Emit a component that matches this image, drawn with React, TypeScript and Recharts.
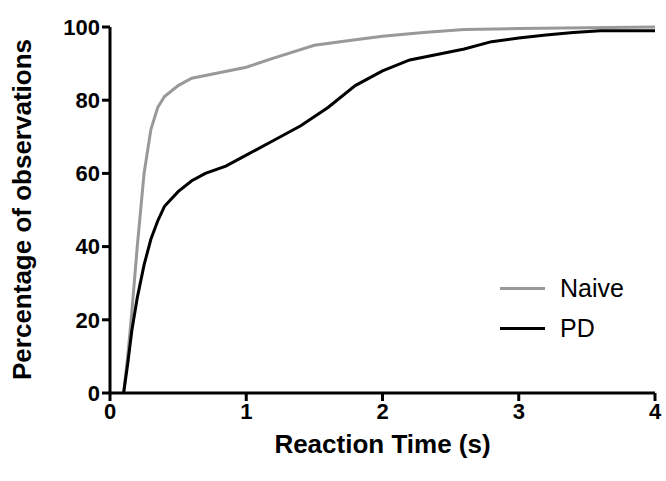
import { LineChart, Line, XAxis, YAxis } from "recharts"

const naiveX = [0.1, 0.13, 0.16, 0.2, 0.25, 0.3, 0.35, 0.4, 0.5, 0.6, 0.8, 1.0, 1.2, 1.5, 1.8, 2.0, 2.3, 2.6, 3.0, 3.5, 4.0]
const naiveY = [0, 10, 22, 40, 60, 72, 78, 81, 84, 86, 87.5, 89, 91.5, 95, 96.5, 97.5, 98.5, 99.3, 99.6, 99.8, 100]
const pdX = [0.1, 0.13, 0.16, 0.2, 0.25, 0.3, 0.35, 0.4, 0.5, 0.6, 0.7, 0.85, 1.0, 1.2, 1.4, 1.6, 1.8, 2.0, 2.2, 2.4, 2.6, 2.8, 3.0, 3.2, 3.4, 3.6, 4.0]
const pdY = [0, 8, 17, 26, 35, 42, 47, 51, 55, 58, 60, 62, 65, 69, 73, 78, 84, 88, 91, 92.5, 94, 96, 97, 97.8, 98.5, 99, 99]
const xTicks = [0, 1, 2, 3, 4]
const yTicks = [0, 20, 40, 60, 80, 100]
const series = [
    { name: "Naive", color: "#999" },
    { name: "PD", color: "#000" },
]

const naive = naiveX.map((x, i) => ({ x, y: naiveY[i] }))
const pd = pdX.map((x, i) => ({ x, y: pdY[i] }))

const font = "Liberation Sans, Arial, sans-serif"
const tickStyle = { fill: "#000", fontSize: 22, fontWeight: 700, fontFamily: font }
const labelStyle = { fill: "#000", fontSize: 26, fontWeight: 700, fontFamily: font }

export default function App() {
    return (
        <div style={{ position: "absolute", left: 0, top: 0, width: 666, height: 481, background: "#fff" }}>
            <LineChart width={666} height={481} margin={{ top: 27, right: 11, left: 50, bottom: 48 }}>
                <XAxis
                    type="number"
                    dataKey="x"
                    domain={[0, 4]}
                    ticks={xTicks}
                    allowDataOverflow
                    height={40}
                    stroke="#000"
                    strokeWidth={3}
                    tickSize={8}
                    tick={tickStyle}
                    label={{ value: "Reaction Time (s)", position: "insideBottom", offset: -20, style: labelStyle }}
                />
                <YAxis
                    type="number"
                    dataKey="y"
                    domain={[0, 100]}
                    ticks={yTicks}
                    width={60}
                    stroke="#000"
                    strokeWidth={3}
                    tickSize={8}
                    tick={tickStyle}
                    label={{ value: "Percentage of observations", angle: -90, position: "insideLeft", offset: -28, dy: 170, style: labelStyle }}
                />
                <Line data={naive} dataKey="y" name="Naive" stroke="#999" strokeWidth={3} dot={false} isAnimationActive={false} />
                <Line data={pd} dataKey="y" name="PD" stroke="#000" strokeWidth={3} dot={false} isAnimationActive={false} />
            </LineChart>
            <div style={{ position: "absolute", left: 500, top: 268, fontFamily: font, fontSize: 25 }}>
                {series.map((s) => (
                    <div key={s.name} style={{ display: "flex", alignItems: "center", height: 40 }}>
                        <div style={{ width: 45, height: 3, background: s.color, marginRight: 15 }} />
                        <span>{s.name}</span>
                    </div>
                ))}
            </div>
        </div>
    )
}
